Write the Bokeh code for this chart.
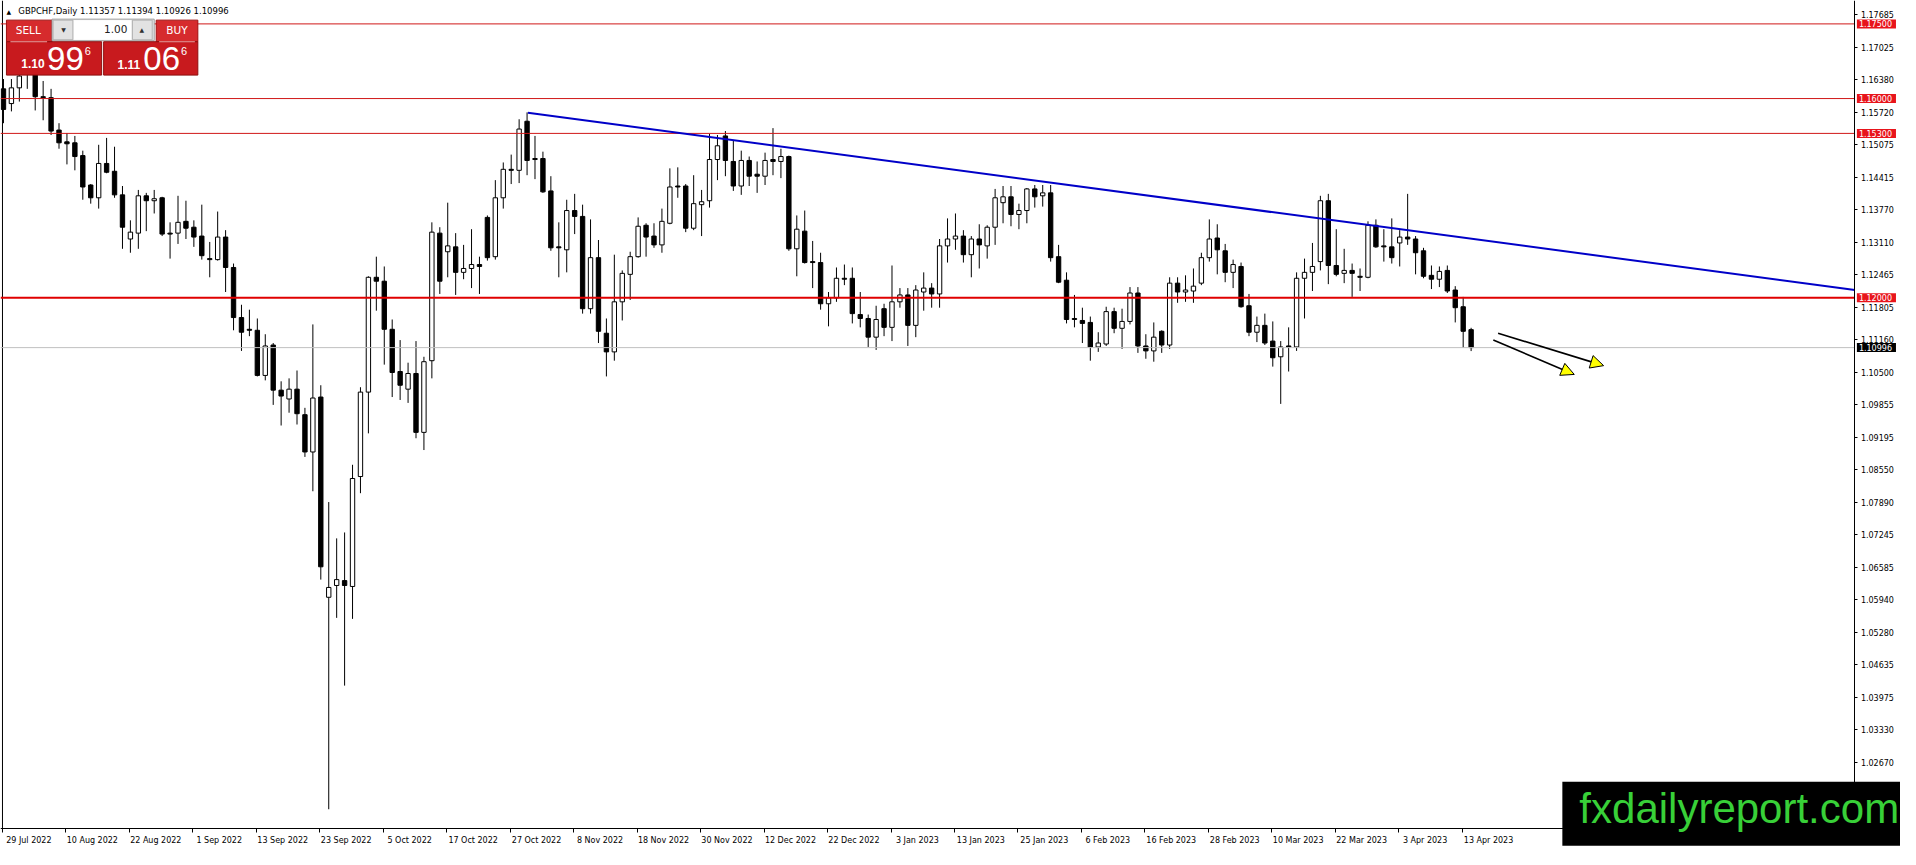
from bokeh.plotting import figure
from bokeh.models import (Range1d, FixedTicker, CustomJSTickFormatter, PrintfTickFormatter,
                          Label, BoxAnnotation, Arrow, NormalHead, ColumnDataSource)
from bokeh.embed import file_html
from bokeh.resources import INLINE

# ---------------- data (GBPCHF daily) ----------------
opens = [1.16195, 1.15899, 1.16215, 1.16590, 1.16511, 1.16037, 1.16018, 1.15367, 1.15130, 1.15111,
         1.14854, 1.14263, 1.14006, 1.14696, 1.14539, 1.14065, 1.13178, 1.13296, 1.14046, 1.13947,
         1.14006, 1.13296, 1.13296, 1.13533, 1.13415, 1.13237, 1.12784, 1.12764, 1.13217, 1.12606,
         1.11600, 1.11364, 1.11344, 1.10437, 1.11048, 1.10141, 1.09964, 1.10161, 1.09648, 1.08899,
         1.10003, 1.05980, 1.06217, 1.06315, 1.06197, 1.08406, 1.10102, 1.12409, 1.12330, 1.11364,
         1.10516, 1.10161, 1.10476, 1.09293, 1.10733, 1.13296, 1.12922, 1.13020, 1.12508, 1.12586,
         1.12665, 1.13612, 1.12823, 1.14006, 1.14578, 1.14558, 1.15544, 1.14795, 1.14795, 1.14144,
         1.13020, 1.12961, 1.13750, 1.13632, 1.11778, 1.12803, 1.11285, 1.10910, 1.11916, 1.12468,
         1.12823, 1.13454, 1.13237, 1.13060, 1.13494, 1.14243, 1.14243, 1.13395, 1.13868, 1.13947,
         1.14775, 1.15249, 1.14736, 1.14243, 1.14756, 1.14480, 1.14440, 1.14775, 1.14736, 1.14835,
         1.12981, 1.13336, 1.12724, 1.12705, 1.11877, 1.11995, 1.12389, 1.12389, 1.11660, 1.11581,
         1.11206, 1.11778, 1.11403, 1.11916, 1.12054, 1.11443, 1.12113, 1.12192, 1.12074, 1.13040,
         1.13178, 1.13237, 1.12863, 1.13178, 1.13040, 1.13415, 1.13908, 1.14026, 1.13671, 1.13750,
         1.14184, 1.14046, 1.14105, 1.12823, 1.12350, 1.11581, 1.11541, 1.11502, 1.11009, 1.11068,
         1.11719, 1.11384, 1.11522, 1.12093, 1.11029, 1.10930, 1.11324, 1.11048, 1.12291, 1.12113,
         1.12133, 1.12291, 1.12803, 1.13198, 1.12941, 1.12508, 1.12626, 1.11837, 1.11305, 1.11443,
         1.11127, 1.10812, 1.11029, 1.11009, 1.12389, 1.12508, 1.12724, 1.13947, 1.12646, 1.12488,
         1.12547, 1.12429, 1.12409, 1.13454, 1.13040, 1.13020, 1.13099, 1.13217, 1.13178, 1.12941,
         1.12448, 1.12370, 1.12547, 1.12153, 1.11817, 1.11357]

highs = [1.16392, 1.16392, 1.16550, 1.16747, 1.16629, 1.16353, 1.16195, 1.15505, 1.15308, 1.15249,
         1.14953, 1.14282, 1.15071, 1.15209, 1.15032, 1.14243, 1.13553, 1.14164, 1.14105, 1.14164,
         1.14026, 1.13513, 1.14046, 1.13947, 1.13553, 1.13868, 1.13119, 1.13730, 1.13356, 1.12685,
         1.11857, 1.11758, 1.11581, 1.11265, 1.11088, 1.10319, 1.10378, 1.10536, 1.09786, 1.11462,
         1.10240, 1.07893, 1.07163, 1.07282, 1.08642, 1.10200, 1.12429, 1.12823, 1.12626, 1.11561,
         1.11147, 1.10693, 1.11127, 1.10812, 1.13513, 1.13415, 1.13908, 1.13296, 1.13060, 1.13375,
         1.12823, 1.13651, 1.14361, 1.14716, 1.14874, 1.15584, 1.15722, 1.15249, 1.14933, 1.14440,
         1.13513, 1.13967, 1.14085, 1.13868, 1.13572, 1.13158, 1.11581, 1.12863, 1.12547, 1.12922,
         1.13612, 1.13494, 1.13494, 1.13789, 1.14598, 1.14618, 1.14282, 1.14460, 1.14164, 1.15288,
         1.15268, 1.15347, 1.15150, 1.14953, 1.14835, 1.14736, 1.14913, 1.15406, 1.14992, 1.14854,
         1.13651, 1.13750, 1.13139, 1.12902, 1.12113, 1.12606, 1.12665, 1.12606, 1.12113, 1.11660,
         1.11837, 1.11877, 1.12646, 1.12192, 1.12192, 1.12251, 1.12508, 1.12291, 1.13178, 1.13592,
         1.13691, 1.13356, 1.13237, 1.13474, 1.13454, 1.14184, 1.14243, 1.14243, 1.13888, 1.14203,
         1.14263, 1.14263, 1.14263, 1.13060, 1.12508, 1.12054, 1.11798, 1.11620, 1.11305, 1.11817,
         1.11798, 1.11778, 1.12212, 1.12212, 1.11265, 1.11502, 1.11344, 1.12409, 1.12409, 1.12448,
         1.12586, 1.12902, 1.13572, 1.13474, 1.13079, 1.12764, 1.12705, 1.12074, 1.11620, 1.11679,
         1.11522, 1.11127, 1.11403, 1.12508, 1.12784, 1.13099, 1.14046, 1.14085, 1.13375, 1.12981,
         1.12685, 1.12586, 1.13533, 1.13572, 1.13375, 1.13592, 1.13356, 1.14085, 1.13237, 1.13001,
         1.12646, 1.12626, 1.12646, 1.12231, 1.12015, 1.11394]

lows = [1.15505, 1.15742, 1.15939, 1.16195, 1.15761, 1.15564, 1.15268, 1.14992, 1.14677, 1.14558,
        1.13967, 1.13888, 1.13789, 1.14499, 1.14006, 1.12981, 1.12902, 1.12981, 1.13336, 1.13691,
        1.13237, 1.12784, 1.13079, 1.13178, 1.13020, 1.12764, 1.12409, 1.12744, 1.12113, 1.11344,
        1.10930, 1.11226, 1.10417, 1.10338, 1.09845, 1.09431, 1.09688, 1.09451, 1.08800, 1.08110,
        1.06335, 1.01721, 1.05566, 1.04205, 1.05546, 1.08071, 1.09273, 1.11738, 1.10654, 1.10003,
        1.09944, 1.09885, 1.09175, 1.08938, 1.10378, 1.12074, 1.12409, 1.12054, 1.12370, 1.12192,
        1.12074, 1.12744, 1.12764, 1.13789, 1.14282, 1.14302, 1.14460, 1.14381, 1.14105, 1.12941,
        1.12409, 1.12508, 1.13277, 1.11679, 1.11679, 1.11088, 1.10417, 1.10733, 1.11541, 1.11955,
        1.12803, 1.12823, 1.13001, 1.12902, 1.13474, 1.14006, 1.13316, 1.13356, 1.13237, 1.13809,
        1.14361, 1.14440, 1.14144, 1.14065, 1.14243, 1.14105, 1.14263, 1.14460, 1.14401, 1.12941,
        1.12429, 1.12685, 1.12192, 1.11758, 1.11423, 1.11916, 1.12251, 1.11482, 1.11403, 1.11009,
        1.10950, 1.11226, 1.11127, 1.11798, 1.11029, 1.11206, 1.11738, 1.11798, 1.11798, 1.12705,
        1.12961, 1.12705, 1.12409, 1.12586, 1.12784, 1.13060, 1.13494, 1.13434, 1.13375, 1.13494,
        1.13809, 1.13829, 1.12724, 1.12291, 1.11482, 1.11403, 1.11088, 1.10733, 1.10910, 1.11029,
        1.11285, 1.10970, 1.11462, 1.10890, 1.10772, 1.10713, 1.10890, 1.10970, 1.11896, 1.11916,
        1.11896, 1.12251, 1.12724, 1.12468, 1.12310, 1.12192, 1.11798, 1.11226, 1.11107, 1.11048,
        1.10614, 1.09865, 1.10516, 1.10930, 1.11581, 1.12133, 1.12547, 1.12271, 1.12429, 1.12291,
        1.12015, 1.12133, 1.12389, 1.13001, 1.12724, 1.12685, 1.12626, 1.13060, 1.12468, 1.12389,
        1.12172, 1.12212, 1.12093, 1.11502, 1.10989, 1.10926]

closes = [1.15781, 1.16215, 1.16452, 1.16511, 1.16037, 1.16018, 1.15347, 1.15111, 1.15091, 1.14835,
          1.14223, 1.14006, 1.14696, 1.14519, 1.14065, 1.13415, 1.13316, 1.14046, 1.13947, 1.13987,
          1.13277, 1.13277, 1.13513, 1.13395, 1.13217, 1.12843, 1.12764, 1.13217, 1.12606, 1.11600,
          1.11305, 1.11344, 1.10437, 1.11029, 1.10141, 1.10023, 1.10161, 1.09668, 1.08899, 1.09983,
          1.06592, 1.06177, 1.06335, 1.06217, 1.08366, 1.10102, 1.12409, 1.12330, 1.11364, 1.10496,
          1.10240, 1.10476, 1.09293, 1.10713, 1.13316, 1.12330, 1.13040, 1.12508, 1.12586, 1.12665,
          1.12626, 1.12803, 1.14006, 1.14578, 1.14558, 1.15387, 1.14756, 1.14775, 1.14125, 1.13001,
          1.13001, 1.13750, 1.13632, 1.11778, 1.12803, 1.11324, 1.10910, 1.11916, 1.12488, 1.12823,
          1.13434, 1.13217, 1.13060, 1.13533, 1.14223, 1.14223, 1.13395, 1.13888, 1.13927, 1.14775,
          1.15051, 1.14756, 1.14243, 1.14756, 1.14440, 1.14440, 1.14756, 1.14736, 1.14835, 1.12981,
          1.13375, 1.12705, 1.12705, 1.11877, 1.11995, 1.12389, 1.12370, 1.11679, 1.11581, 1.11206,
          1.11561, 1.11403, 1.11916, 1.12054, 1.11443, 1.12153, 1.12192, 1.12074, 1.13040, 1.13178,
          1.13237, 1.12863, 1.13178, 1.13060, 1.13415, 1.14006, 1.14026, 1.13671, 1.13750, 1.14184,
          1.14026, 1.14105, 1.12803, 1.12310, 1.11561, 1.11561, 1.11482, 1.11009, 1.11088, 1.11719,
          1.11384, 1.11522, 1.12093, 1.11029, 1.10930, 1.11206, 1.11048, 1.12291, 1.12113, 1.12153,
          1.12231, 1.12803, 1.13178, 1.12961, 1.12508, 1.12665, 1.11817, 1.11305, 1.11443, 1.11088,
          1.10792, 1.11009, 1.11009, 1.12389, 1.12508, 1.12626, 1.13947, 1.12646, 1.12468, 1.12547,
          1.12488, 1.12409, 1.13454, 1.13020, 1.13020, 1.12803, 1.13217, 1.13178, 1.12902, 1.12429,
          1.12370, 1.12527, 1.12133, 1.11798, 1.11324, 1.10996]

date_labels = ["29 Jul 2022", "10 Aug 2022", "22 Aug 2022", "1 Sep 2022", "13 Sep 2022",
               "23 Sep 2022", "5 Oct 2022", "17 Oct 2022", "27 Oct 2022", "8 Nov 2022",
               "18 Nov 2022", "30 Nov 2022", "12 Dec 2022", "22 Dec 2022", "3 Jan 2023",
               "13 Jan 2023", "25 Jan 2023", "6 Feb 2023", "16 Feb 2023", "28 Feb 2023",
               "10 Mar 2023", "22 Mar 2023", "3 Apr 2023", "13 Apr 2023"]
bars_per_label = 8

price_ticks = [1.17685, 1.17025, 1.16380, 1.15720, 1.15075, 1.14415, 1.13770, 1.13110,
               1.12465, 1.11805, 1.11160, 1.10500, 1.09855, 1.09195, 1.08550, 1.07890,
               1.07245, 1.06585, 1.05940, 1.05280, 1.04635, 1.03975, 1.03330, 1.02670]

thin_levels = [1.17500, 1.16000, 1.15300]
main_level = 1.12000
last_price = 1.10996

trend_x = [66.1, 233.375]
trend_y = [1.15716, 1.12153]

arrow_x0 = [188.4, 187.8]
arrow_y0 = [1.11285, 1.11147]
arrow_x1 = [201.7, 198.0]
arrow_y1 = [1.10634, 1.10457]

symbol_title = "GBPCHF,Daily  1.11357 1.11394 1.10926 1.10996"

# ---------------- geometry helpers (reference pixel -> data) ----------------
X0 = -0.375
PX_PER_BAR = 8.0
TOP_PRICE, PRICE_PER_PX = 1.1797, 0.0001972
REF_W, REF_H = 1916, 865


def px(x):
    return X0 + x / PX_PER_BAR


def py(y):
    return TOP_PRICE - y * PRICE_PER_PX


AXIS_X = px(1870)      # price scale line
AXIS_Y = py(844)       # time scale line
FONT = "DejaVu Sans"

p = figure(frame_width=1900, frame_height=849,
           x_range=Range1d(X0, px(REF_W)), y_range=Range1d(py(REF_H), py(0)),
           y_axis_location="right", output_backend="svg", toolbar_location=None,
           title=None, min_border_left=0, min_border_right=0, min_border_top=0,
           min_border_bottom=0, background_fill_color="white", border_fill_color="white",
           outline_line_color=None)
p.grid.visible = False

# ---------------- axes (fixed inside the canvas, like MT4) ----------------
xa = p.xaxis[0]
tick_marks = [bars_per_label * k - 0.125 for k in range(len(date_labels))]
label_pos = [bars_per_label * k + 3.2 for k in range(len(date_labels))]
xa.ticker = FixedTicker(ticks=label_pos, minor_ticks=tick_marks)
xa.formatter = CustomJSTickFormatter(args=dict(pos=label_pos, labels=date_labels), code="""
    let best = 0, bd = 1e9;
    for (let k = 0; k < pos.length; k++) {
        const d = Math.abs(pos[k] - tick);
        if (d < bd) { bd = d; best = k; }
    }
    return labels[best];
""")
xa.fixed_location = AXIS_Y
xa.bounds = (X0, AXIS_X)
xa.major_tick_line_color = None
xa.major_tick_out = 3
xa.major_tick_in = 0
xa.minor_tick_line_color = "black"
xa.minor_tick_out = 4
xa.minor_tick_in = 0
xa.axis_line_color = "black"
xa.major_label_text_font = FONT
xa.major_label_text_font_size = "8px"
xa.major_label_text_color = "black"
xa.major_label_standoff = 3

ya = p.yaxis[0]
ya.ticker = FixedTicker(ticks=price_ticks)
ya.formatter = PrintfTickFormatter(format="%.5f")
ya.fixed_location = AXIS_X
ya.bounds = (AXIS_Y, py(0))
ya.axis_line_color = "black"
ya.major_tick_line_color = "black"
ya.major_tick_out = 3
ya.major_tick_in = 0
ya.minor_tick_line_color = None
ya.major_label_text_font = FONT
ya.major_label_text_font_size = "8px"
ya.major_label_text_color = "black"
ya.major_label_standoff = 3

# left frame border
p.segment(x0=[px(2)], y0=[py(0)], x1=[px(2)], y1=[AXIS_Y], line_color="black", line_width=1)

# ---------------- candles ----------------
idx = list(range(len(opens)))
src = ColumnDataSource(dict(
    x=idx, open=opens, high=highs, low=lows, close=closes,
    top=[max(o, c) for o, c in zip(opens, closes)],
    bottom=[min(o, c) for o, c in zip(opens, closes)],
    fill=["black" if c < o else "white" for o, c in zip(opens, closes)],
))
p.segment(x0="x", y0="low", x1="x", y1="high", source=src, line_color="black", line_width=1)
p.vbar(x="x", width=0.55, top="top", bottom="bottom", source=src,
       fill_color="fill", line_color="black", line_width=1)

# ---------------- horizontal levels (stop at the price scale) ----------------
n = len(thin_levels)
p.segment(x0=[X0] * n, x1=[AXIS_X] * n, y0=thin_levels, y1=thin_levels,
          line_color="#D01818", line_width=1)
p.segment(x0=[X0], x1=[AXIS_X], y0=[main_level], y1=[main_level],
          line_color="#E00000", line_width=2)
p.segment(x0=[X0], x1=[AXIS_X], y0=[last_price], y1=[last_price],
          line_color="#C0C0C0", line_width=1)

# ---------------- trend line ----------------
p.line(trend_x, trend_y, line_color="#0000C8", line_width=2)

# ---------------- arrows ----------------
for xs, ys, xe, ye in zip(arrow_x0, arrow_y0, arrow_x1, arrow_y1):
    p.add_layout(Arrow(x_start=xs, y_start=ys, x_end=xe, y_end=ye,
                       line_color="black", line_width=1.6,
                       end=NormalHead(size=13, fill_color="#FFFF00",
                                      line_color="black", line_width=1)))

# ---------------- price tags on the price scale ----------------
for lv in thin_levels + [main_level]:
    p.add_layout(Label(x=AXIS_X, y=lv, x_offset=2, text=f"{lv:.5f}", text_align="left",
                       text_baseline="middle", text_color="white", text_font=FONT,
                       text_font_size="8px", background_fill_color="#E8141B",
                       padding=dict(left=2, right=4, top=1, bottom=1)))
p.add_layout(Label(x=AXIS_X, y=last_price, x_offset=2, text=f"{last_price:.5f}",
                   text_align="left", text_baseline="middle", text_color="white",
                   text_font=FONT, text_font_size="8px", background_fill_color="black",
                   padding=dict(left=2, right=4, top=1, bottom=1)))

# ---------------- one-click trading panel ----------------
def box(l, r, t, b, fill, line=None, lw=1):
    p.add_layout(BoxAnnotation(left=px(l), right=px(r), top=py(t), bottom=py(b),
                               fill_color=fill, fill_alpha=1, line_color=line,
                               line_alpha=1 if line else 0, line_width=lw))


def txt(x, y, s, size, color="white", align="left", font=FONT, style="normal"):
    p.add_layout(Label(x=px(x), y=py(y), text=s, text_font_size=size, text_color=color,
                       text_align=align, text_baseline="middle", text_font=font,
                       text_font_style=style))


box(6, 52, 20, 42, "#D62B2D", "#9E1010")      # SELL
box(157, 199, 20, 42, "#D62B2D", "#9E1010")   # BUY
box(52, 155, 19, 41, "#EDEDED", "#9C9C9C")    # lot control
box(53, 73, 20, 40, "#E2E2E2", "#B0B0B0")
box(74, 132, 20, 40, "white", None)
box(133, 153, 20, 40, "#E2E2E2", "#B0B0B0")
box(6, 102, 42, 76, "#C81A1E", "#8E0E0E")     # sell price
box(104, 199, 42, 76, "#C81A1E", "#8E0E0E")   # buy price
box(10, 47, 41.5, 42.5, "#F3A0A0", None)
box(160, 196, 41.5, 42.5, "#F3A0A0", None)

txt(28, 30.5, "SELL", "10.5px", align="center")
txt(178, 30.5, "BUY", "10.5px", align="center")
txt(128, 29.5, "1.00", "10.5px", color="#202020", align="right")
txt(63.5, 30, "\u25BC", "6px", color="#303030", align="center")
txt(142.5, 30, "\u25B2", "6px", color="#303030", align="center")
txt(21, 64.5, "1.10", "12px", font="Liberation Sans", style="bold")
txt(47, 59.5, "99", "33px", font="Liberation Sans")
txt(85, 51.5, "6", "11px", font="Liberation Sans")
txt(118, 65, "1.11", "12px", font="Liberation Sans", style="bold")
txt(144, 59.5, "06", "33px", font="Liberation Sans")
txt(182, 51.5, "6", "11px", font="Liberation Sans")

# chart caption
txt(6, 11, "\u25B2", "6px", color="black")
txt(18, 11, symbol_title, "8.5px", color="black")

# ---------------- watermark box ----------------
p.add_layout(Label(x=px(1575), y=py(828.5), text="fxdailyreport.com", text_align="left",
                   text_baseline="middle", text_color="#38D038",
                   text_font="Liberation Sans", text_font_size="42px",
                   background_fill_color="black",
                   padding=dict(left=17, right=22, top=3, bottom=14)))

open("out.html", "w").write(file_html(p, INLINE))
